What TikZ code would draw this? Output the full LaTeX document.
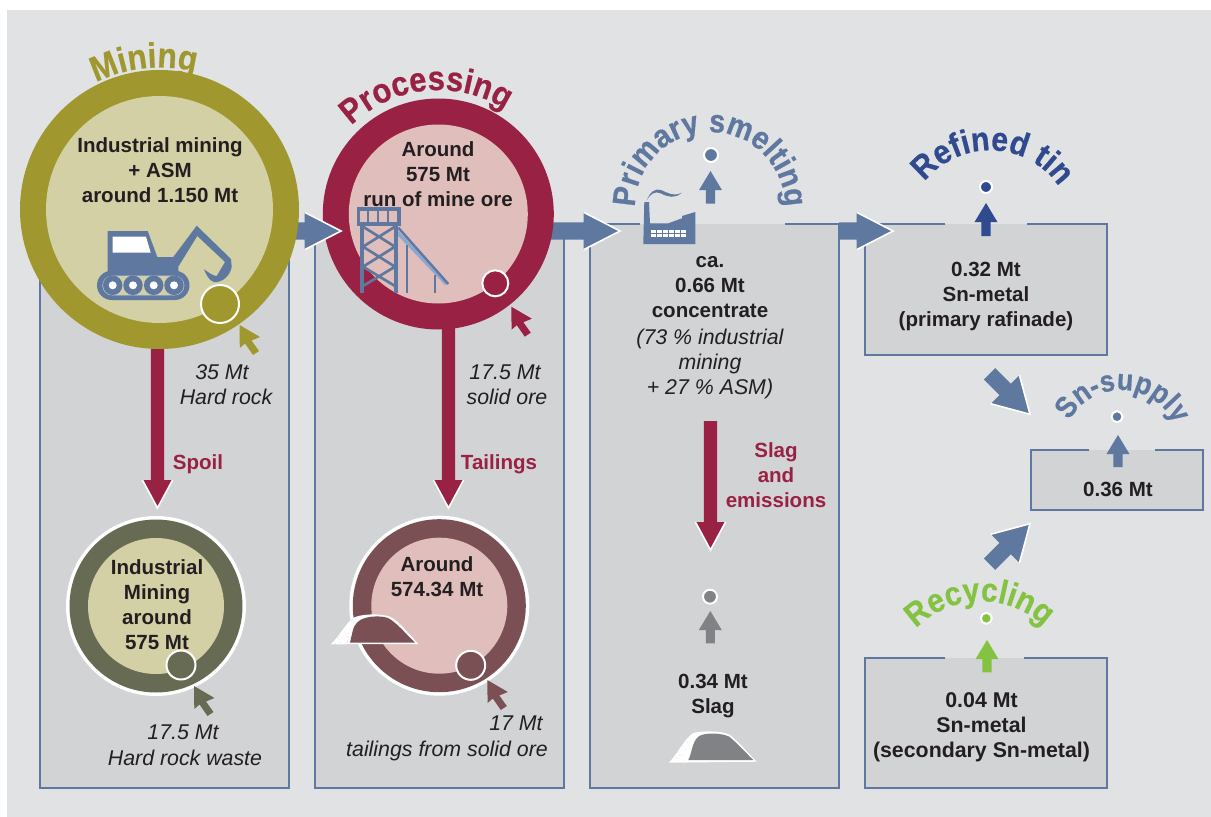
\documentclass[tikz,border=0pt]{standalone}
\usepackage{fontspec}
\setmainfont{Liberation Sans}
\newfontfamily\arcfont[BoldFeatures={FakeBold=0.6,FakeStretch=0.9}]{Liberation Sans}
\usetikzlibrary{calc,decorations.text}
\definecolor{bgcol}{HTML}{E0E2E4}
\definecolor{panelcol}{HTML}{D1D3D5}
\definecolor{bluecol}{HTML}{5F789F}
\definecolor{lightblue}{HTML}{8CA6CE}
\definecolor{minecol}{HTML}{A0982F}
\definecolor{minein}{HTML}{D3D0A6}
\definecolor{redcol}{HTML}{992244}
\definecolor{procin}{HTML}{E0BEBC}
\definecolor{spoilcol}{HTML}{676B53}
\definecolor{tailcol}{HTML}{7A5054}
\definecolor{tincol}{HTML}{2F4A8E}
\definecolor{greencol}{HTML}{84C341}
\definecolor{greycol}{HTML}{808285}
\definecolor{inkcol}{HTML}{231F20}
\newcommand{\pxu}{0.75pt}
\newcommand{\fatarrow}[7]{% from, to, colour, shaft half, head half, head length, outline
  \coordinate (fb) at ($(#2)!#6!(#1)$);
  \fill[#3] ($(#1)!#4!90:(#2)$) -- ($(fb)!#4!90:(#2)$) -- ($(fb)!#5!90:(#2)$) -- (#2)
     -- ($(fb)!#5!-90:(#2)$) -- ($(fb)!#4!-90:(#2)$) -- ($(#1)!#4!-90:(#2)$) -- cycle;
  \path[draw=#7,line width=1.2pt] ($(fb)!#5!90:(#2)$) -- (#2) -- ($(fb)!#5!-90:(#2)$);
}
\newcommand{\bigarrow}[2]{\fatarrow{#1}{#2}{bluecol}{6.4pt}{14pt}{27.2pt}{white}}
\newcommand{\redarrow}[2]{\fatarrow{#1}{#2}{redcol}{4.9pt}{11.3pt}{21pt}{white}}
\newcommand{\diagarrow}[2]{\fatarrow{#1}{#2}{bluecol}{6pt}{15.2pt}{26.4pt}{white}}
\newcommand{\uparrowm}[3]{\fatarrow{#1}{#2}{#3}{3.4pt}{8.6pt}{14.3pt}{none}}
\newcommand{\cursorm}[2]{\fill[#2,shift={(#1)}] (0,0) -- (20.5,12) -- (12,15.5) -- (19.5,26) -- (13.5,30) -- (5.5,18.5) -- (0.3,23) -- cycle;}
\newcommand{\arctext}[8]{% centre x, y, radius, from, to, colour, size, text
  \path[decorate,decoration={text along path,text color=#6,text align=center,
     text={|\arcfont\fontsize{#7}{#7}\selectfont\bfseries|#8}}]
     plot[domain=#4:#5,samples=90,variable=\t] ({#1+#3*cos(\t)},{#2+#3*sin(\t)});
}
\newcommand{\speckle}[4]{% x from, x to, y from, y to
  \foreach \sn in {1,...,45}{
    \pgfmathsetmacro{\sx}{#1+rnd*(#2-#1)}
    \pgfmathsetmacro{\sy}{#3+rnd*(#4-#3)}
    \fill[panelcol] (\sx,\sy) circle[radius=0.32pt];
  }
}
\tikzset{
  x=0.75pt,y=-0.75pt,
  panelfill/.style={fill=panelcol,draw=none},
  panelline/.style={draw=bluecol,line width=1.1pt},
  disc/.style={circle,inner sep=0pt,outer sep=0pt,draw=none},
  dotm/.style={circle,inner sep=0pt,outer sep=0pt,draw=white,line width=1.5pt,minimum size=12pt},
  spotm/.style={circle,inner sep=0pt,outer sep=0pt,draw=white,line width=1.5pt},
  boldtxt/.style={font=\fontsize{15.4}{18.75}\selectfont\bfseries,text=inkcol,align=center,inner sep=0pt},
  itatxt/.style={font=\fontsize{16}{18.75}\selectfont\itshape,text=inkcol,align=center,inner sep=0pt},
  redtxt/.style={boldtxt,text=redcol},
}
\begin{document}
\begin{tikzpicture}
\pgfmathsetseed{7}
\useasboundingbox (0,0) rectangle (1211,817);
\fill[white] (0,0) rectangle (1211,817);
\fill[bgcol] (7,10) rectangle (1211,817);

% panels
\path[panelfill] (40,224) rectangle (289,788);
\draw[panelline] (289,224) -- (289,788) -- (40,788) -- (40,224);
\path[panelfill] (315,224) rectangle (564,788);
\draw[panelline] (315,224) -- (564,224) -- (564,788) -- (315,788) -- cycle;
\path[panelfill] (590,224) rectangle (839,788);
\draw[panelline] (640,224) -- (590,224) -- (590,788) -- (839,788) -- (839,224) -- (785,224);
\path[panelfill] (865,224) rectangle (1107,355);
\draw[panelline] (945,224) -- (865,224) -- (865,355) -- (1107,355) -- (1107,224) -- (1027,224);
\path[panelfill] (1031,450) rectangle (1203,510);
\draw[panelline] (1089,450) -- (1031,450) -- (1031,510) -- (1203,510) -- (1203,450) -- (1155,450);
\path[panelfill] (865,658) rectangle (1107,788);
\draw[panelline] (945,658) -- (865,658) -- (865,788) -- (1107,788) -- (1107,658) -- (1024,658);

% named end points of the flow arrows
\coordinate (mineout) at (285,231);
\coordinate (procin) at (341,231);
\coordinate (procout) at (545,231);
\coordinate (smeltin) at (620,231);
\coordinate (smeltout) at (839,231);
\coordinate (tinin) at (893,231);
\coordinate (minedown) at (157.5,340);
\coordinate (spoilin) at (157.5,508);
\coordinate (procdown) at (448.5,320);
\coordinate (tailin) at (448.5,508);
\coordinate (slagfrom) at (710.5,421);
\coordinate (slagto) at (710.5,550);
\coordinate (tinfrom) at (989.5,373.8);
\coordinate (supplytop) at (1030,414.3);
\coordinate (recfrom) at (989.5,564.2);
\coordinate (supplybot) at (1030,523.7);

% lower circles
\node[disc,fill=white,minimum size=180*\pxu] (spoilw) at (156,606) {};
\node[disc,fill=spoilcol,minimum size=173*\pxu] (spoil) at (156,606) {};
\node[disc,fill=minein,minimum size=136*\pxu] (spoili) at (156,606) {};
\node[spotm,fill=spoilcol,minimum size=29*\pxu] (spoils) at (181,665) {};
\node[disc,fill=white,minimum size=180*\pxu] (tailw) at (439.3,605.7) {};
\node[disc,fill=tailcol,minimum size=173*\pxu] (tail) at (439.3,605.7) {};
\node[disc,fill=procin,minimum size=136*\pxu] (taili) at (439.3,605.7) {};
\node[spotm,fill=tailcol,minimum size=29*\pxu] (tails) at (470.7,665.3) {};

% flow arrows
\redarrow{minedown}{spoilin}
\redarrow{procdown}{tailin}
\redarrow{slagfrom}{slagto}
\bigarrow{procout}{smeltin}

% processing circle
\node[disc,fill=redcol,minimum size=231*\pxu] (proc) at (438.3,214) {};
\node[disc,fill=procin,minimum size=179*\pxu] (proci) at (438.3,214) {};
\node[spotm,fill=redcol,minimum size=26*\pxu] (procs) at (495.3,283.3) {};

\bigarrow{mineout}{procin}
\bigarrow{smeltout}{tinin}

% mining circle
\node[disc,fill=minecol,minimum size=279*\pxu] (mine) at (159.5,209.5) {};
\node[disc,fill=minein,minimum size=227*\pxu] (minei) at (159.5,209.5) {};
\node[spotm,fill=minecol,minimum size=38*\pxu] (mines) at (220,304) {};

% pointers
\cursorm{239.5,325}{minecol}
\cursorm{511.3,306.7}{redcol}
\cursorm{194,686}{spoilcol}
\cursorm{487.3,680}{tailcol}

% excavator
\fill[bluecol] (107.7,231) -- (147.7,231) -- (157.3,257) -- (173.3,257) -- (196.7,225.7) -- (231,259)
  -- (231.7,267) .. controls (230,276) and (222,283) .. (214,282)
  .. controls (209,281) and (206,274) .. (204,269.3)
  .. controls (208,272) and (213,276) .. (216.7,276) -- (225,262) -- (197.3,236)
  -- (178.3,266.7) -- (178.3,275) -- (107.7,275) -- cycle;
\fill[white] (112.7,236.7) -- (146,236.7) -- (150.7,252.7) -- (112.7,252.7) -- cycle;
\fill[bluecol,rounded corners=11pt] (97,270.7) rectangle (189.5,300);
\draw[fill=minein,draw=white!60!bluecol,line width=0.4pt,rounded corners=7pt] (102.7,276) rectangle (184,295);
\foreach \wx in {112.7,133,153.7,174}{
  \fill[bluecol] (\wx,285.3) circle[radius=7.3pt];
  \fill[white] (\wx,285.3) circle[radius=3pt];
}

% head frame tower
\begin{scope}[bluecol]
\draw[lightblue,line width=2.8pt] (396.7,231.7) -- (446.7,284);
\draw[line width=1.8pt] (398.3,227.7) -- (448.3,284);
\draw[line width=1.6pt] (407,245) -- (407,293.3);
\draw[line width=1.6pt] (435,275) -- (435,293.3);
\draw[line width=2pt] (363,226.7) -- (395,246.7) (395,226.7) -- (363,246.7)
  (363,246.7) -- (395,266.7) (395,246.7) -- (363,266.7)
  (363,266.7) -- (395,286) (395,266.7) -- (363,286);
\draw[line width=3pt] (361.7,224) -- (361.7,293.3) (396,224) -- (396,293.3);
\draw[line width=2.4pt] (358.5,209) rectangle (399,224);
\draw[line width=1.5pt] (368.3,209) -- (368.3,224) (378.3,209) -- (378.3,224) (388.3,209) -- (388.3,224);
\end{scope}

% factory
\fill[bluecol] (643.3,244) -- (644.3,202) -- (649,202) -- (650,223.3) -- (668.3,223.3) -- (682,218.3)
  -- (682,216) -- (695.3,212) -- (695.3,244) -- cycle;
\foreach \wy in {230,234}{\foreach \wn in {0,1,2,3,4,5}{
  \fill[white] (651+\wn*6,\wy) rectangle ++(5.2,3.2);
}}
\fill[bluecol] (646.7,200.5) .. controls (650,192) and (655,188) .. (661,190)
  .. controls (668,193) and (674,197) .. (681.7,192.7)
  .. controls (675,199) and (668,197) .. (661,193.5)
  .. controls (655,190.5) and (650,194) .. (646.7,200.5) -- cycle;

% slag and tailings piles
\begin{scope}
\clip (331,644.3) .. controls (340,635) and (347,622) .. (353,618)
  .. controls (360,614) and (380,613) .. (390,616.7) .. controls (398,620) and (410,635) .. (418.3,644) -- cycle;
\fill[white] (325,610) rectangle (425,650);
\speckle{331}{356}{616}{644}
\end{scope}
\fill[tailcol] (350,642.7) .. controls (352,635) and (353,626) .. (356.7,623)
  .. controls (362,616) and (380,615) .. (388,618) .. controls (396,622) and (406,634) .. (415,642.7) -- cycle;
\begin{scope}
\clip (669,762.7) .. controls (678,753) and (685,738) .. (693.3,733)
  .. controls (700,731) and (722,730) .. (730,735) .. controls (738,741) and (748,753) .. (756.7,761.7) -- cycle;
\fill[white] (660,725) rectangle (765,770);
\speckle{669}{698}{733}{762}
\end{scope}
\fill[greycol] (688.3,760) .. controls (692,753) and (692,742) .. (698.3,736.7)
  .. controls (704,732) and (722,733) .. (729.3,736.7) .. controls (737,743) and (745,752) .. (753.3,760) -- cycle;

% small emission arrows and dots
\coordinate (smA) at (710.5,203.7); \coordinate (smB) at (710.5,171);
\coordinate (tnA) at (986,236);     \coordinate (tnB) at (986,203);
\coordinate (suA) at (1118,467);    \coordinate (suB) at (1118,435);
\coordinate (reA) at (987,672.3);   \coordinate (reB) at (987,640);
\coordinate (slA) at (710.3,643.3); \coordinate (slB) at (710.3,611);
\uparrowm{smA}{smB}{bluecol}
\uparrowm{tnA}{tnB}{tincol}
\uparrowm{suA}{suB}{bluecol}
\uparrowm{reA}{reB}{greencol}
\uparrowm{slA}{slB}{greycol}
\node[dotm,fill=bluecol,minimum size=14*\pxu] (smd) at (711,155) {};
\node[dotm,fill=tincol,minimum size=12*\pxu] (tnd) at (986,187) {};
\node[dotm,fill=bluecol,minimum size=11*\pxu] (sud) at (1117,416.7) {};
\node[dotm,fill=greencol,minimum size=11*\pxu] (red) at (986.3,618.3) {};
\node[dotm,fill=greycol,minimum size=14*\pxu] (sld) at (710,596.7) {};

% diagonal arrows into the supply
\diagarrow{tinfrom}{supplytop}
\diagarrow{recfrom}{supplybot}

% arc titles
\arctext{159.5}{209.5}{142}{218}{310}{minecol}{26.4}{Mining}
\arctext{438.3}{214}{124}{190}{338}{redcol}{25.8}{Processing}
\arctext{710}{207}{75}{170}{370}{bluecol}{24.2}{Primary smelting}
\arctext{990}{234}{83.7}{190}{354}{tincol}{25.2}{Refined tin}
\arctext{1121}{449}{59}{185}{359}{bluecol}{22.4}{Sn-supply}
\arctext{981}{692}{90.8}{202}{336}{greencol}{25}{Recycling}

% texts
\node[boldtxt] (t1) at (160,170.3) {Industrial mining\\+ ASM\\around 1.150 Mt};
\node[boldtxt] (t2) at (438,174.3) {Around\\575 Mt\\run of mine ore};
\node[boldtxt] (t3) at (157,604.5) {Industrial\\Mining\\around\\575 Mt};
\node[boldtxt] (t4) at (437,577) {Around\\574.34 Mt};
\node[boldtxt] (t5) at (710,287.5) {ca.\\0.66 Mt\\concentrate};
\node[itatxt] (t6) at (710,363.5) {(73 \% industrial\\mining\\+ 27 \% ASM)};
\node[boldtxt] (t7) at (986,296) {0.32 Mt\\Sn-metal\\(primary rafinade)};
\node[boldtxt] (t8) at (1118,489) {0.36 Mt};
\node[boldtxt,font=\fontsize{16}{18.75}\selectfont\bfseries] (t9) at (981.5,727.5) {0.04 Mt\\Sn-metal\\(secondary Sn-metal)};
\node[boldtxt] (t10) at (713,696) {0.34 Mt\\Slag};
\node[itatxt] (i1) at (222,372) {35 Mt};
\node[itatxt] (i2) at (226,397) {Hard rock};
\node[itatxt] (i3) at (505,372) {17.5 Mt};
\node[itatxt] (i4) at (507,397) {solid ore};
\node[itatxt] (i5) at (183,732) {17.5 Mt};
\node[itatxt] (i6) at (185,758) {Hard rock waste};
\node[itatxt] (i7) at (516,723) {17 Mt};
\node[itatxt] (i8) at (447,750.5) {tailings from solid ore};
\node[redtxt] (r1) at (198,464) {Spoil};
\node[redtxt] (r2) at (499,464) {Tailings};
\node[redtxt] (r3) at (776,475) {Slag\\and\\emissions};
\end{tikzpicture}
\end{document}
